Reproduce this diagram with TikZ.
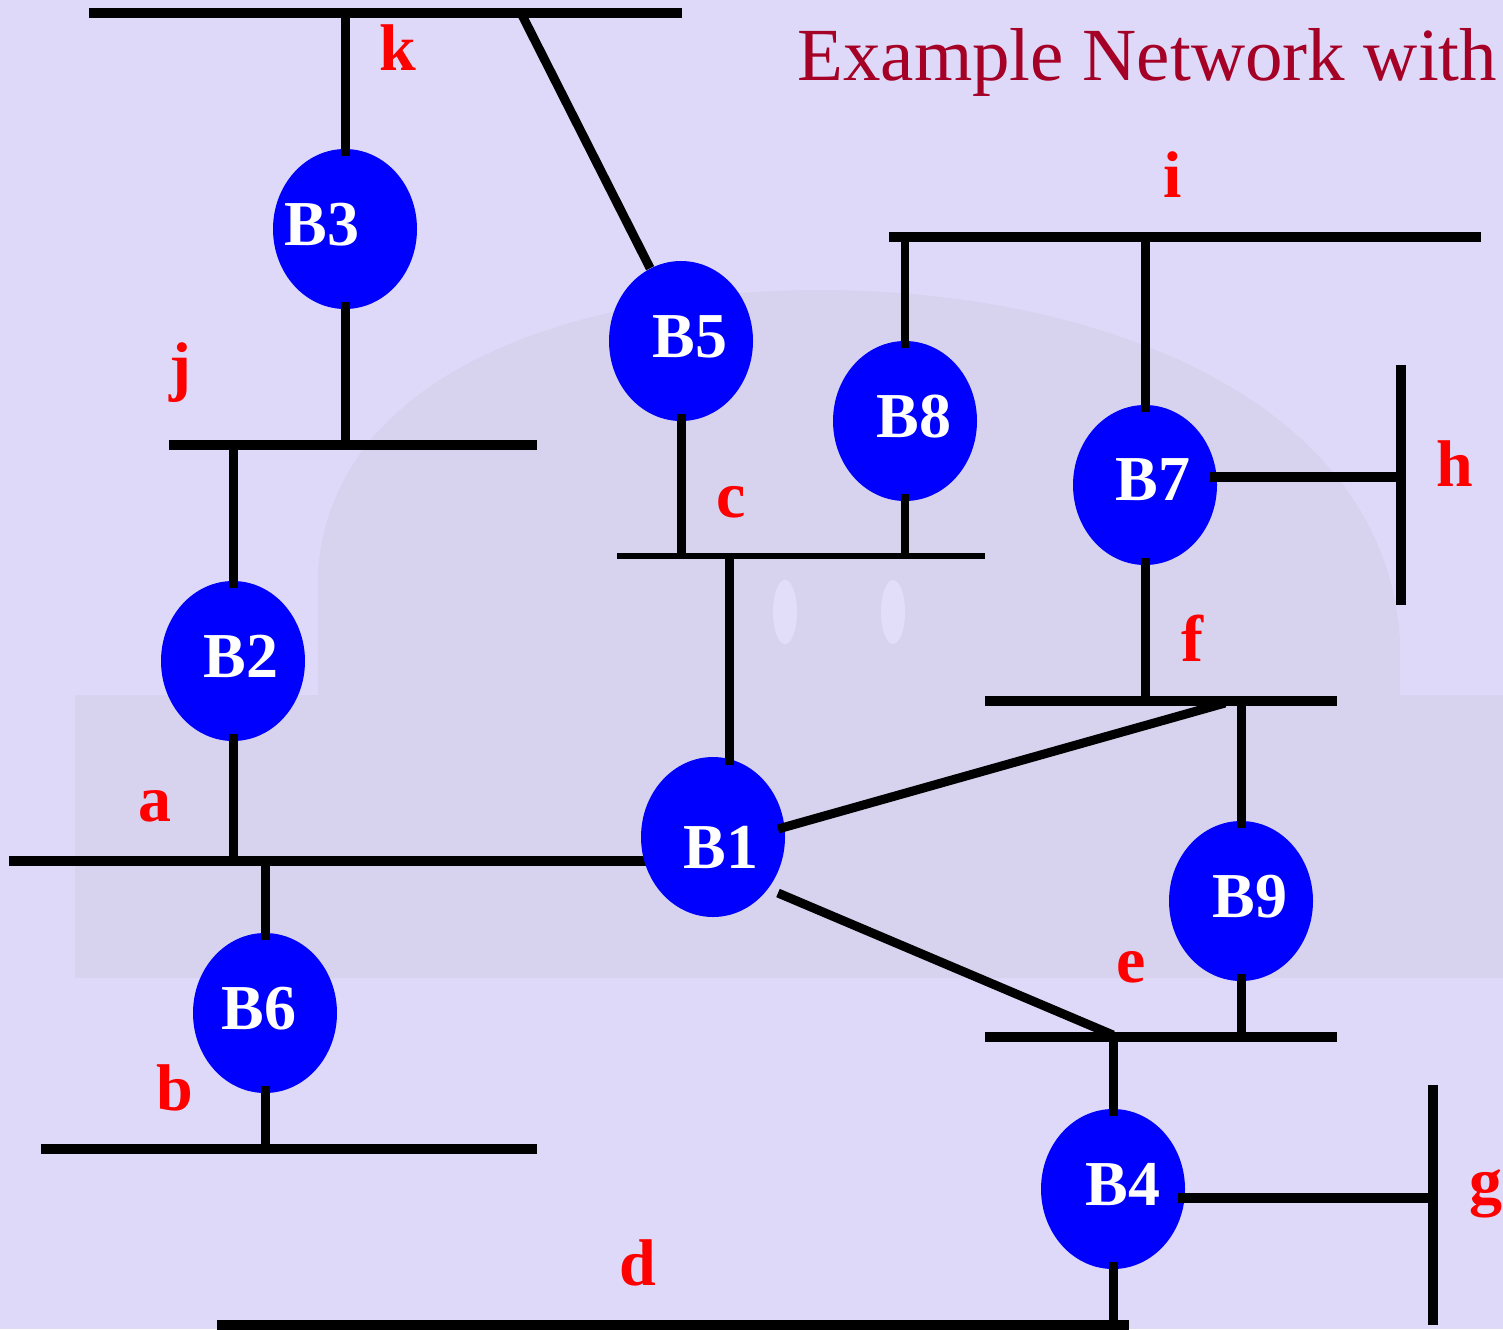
\documentclass[tikz,border=0pt]{standalone}
\usepackage{fontspec}
\setmainfont{Liberation Serif}
\usetikzlibrary{shapes.geometric}
\definecolor{bgc}{HTML}{DED9F9}
\definecolor{photo}{HTML}{D7D3EF}
\definecolor{photolt}{HTML}{E2DEFA}
\definecolor{titlered}{HTML}{A50026}
\definecolor{bridge}{HTML}{0000FF}
\begin{document}
\begin{tikzpicture}[x=0.5pt,y=-0.5pt,
  bus/.style={line width=5pt,line cap=butt},
  thinbus/.style={line width=3pt,line cap=butt},
  conn/.style={line width=4.5pt,line cap=butt},
  diag/.style={line width=4.5pt,line cap=butt},
  bridgenode/.style={ellipse,fill=bridge,draw=none,minimum width=72pt,minimum height=80pt,inner sep=0pt},
  btext/.style={anchor=base,text=white,font=\fontsize{32}{34}\selectfont\bfseries,inner sep=0pt},
  lab/.style={anchor=base,text=red,font=\fontsize{33}{36}\selectfont\bfseries,inner sep=0pt},
]
% background
\fill[bgc] (0,0) rectangle (1503,1329);
\useasboundingbox (0,0) rectangle (1503,1329);
% faint photo
\fill[photo] (318,700) -- (318,570) .. controls (335,360) and (600,290) .. (820,290) .. controls (1100,290) and (1385,400) .. (1400,640) -- (1400,700) -- cycle;
\fill[photo] (75,695) rectangle (1503,978);
\fill[photolt] (785,612) ellipse (12 and 32);
\fill[photolt] (893,612) ellipse (12 and 32);

% bus coordinates
\coordinate (kL) at (89,13);   \coordinate (kR) at (682,13);
\coordinate (jL) at (169,445); \coordinate (jR) at (537,445);
\coordinate (cL) at (617,556); \coordinate (cR) at (985,556);
\coordinate (iL) at (889,237); \coordinate (iR) at (1481,237);
\coordinate (hT) at (1401,365);\coordinate (hB) at (1401,605);
\coordinate (fL) at (985,701); \coordinate (fR) at (1337,701);
\coordinate (aL) at (9,861);   \coordinate (aR) at (649,861);
\coordinate (eL) at (985,1037);\coordinate (eR) at (1337,1037);
\coordinate (bL) at (41,1149); \coordinate (bR) at (537,1149);
\coordinate (gT) at (1433,1085);\coordinate (gB) at (1433,1325);
\coordinate (dL) at (217,1325);\coordinate (dR) at (1129,1325);

% buses
\draw[bus] (kL) -- (kR);
\draw[bus] (jL) -- (jR);
\draw[thinbus] (cL) -- (cR);
\draw[bus] (iL) -- (iR);
\draw[bus] (hT) -- (hB);
\draw[bus] (fL) -- (fR);
\draw[bus] (aL) -- (aR);
\draw[bus] (eL) -- (eR);
\draw[bus] (bL) -- (bR);
\draw[bus] (gT) -- (gB);
\draw[bus] (dL) -- (dR);

% bridges
\node[bridgenode] (B3) at (345,229) {};
\node[bridgenode] (B5) at (681,341) {};
\node[bridgenode] (B8) at (905,421) {};
\node[bridgenode] (B7) at (1145,485) {};
\node[bridgenode] (B2) at (233,661) {};
\node[bridgenode] (B1) at (713,837) {};
\node[bridgenode] (B9) at (1241,901) {};
\node[bridgenode] (B6) at (265,1013) {};
\node[bridgenode] (B4) at (1113,1189) {};

% free-end coordinates
\coordinate (kD) at (521,13);
\coordinate (h7) at (1401,477);
\coordinate (B7h) at (1210,477);
\coordinate (c1) at (729,556);
\coordinate (B1c) at (729,765);
\coordinate (B1f) at (778,829);
\coordinate (fD) at (1225,703);
\coordinate (B1e) at (778,893);
\coordinate (eD) at (1113,1035);
\coordinate (B4g) at (1178,1198);
\coordinate (g4) at (1433,1198);

% connectors
\draw[conn] ([yshift=-3.5pt]B3.north) -- (B3 |- kL);
\draw[conn] ([yshift=3.5pt]B3.south) -- (B3 |- jL);
\draw[conn] (kD) -- (B5.113);
\draw[conn] ([yshift=3.5pt]B5.south) -- (B5 |- cL);
\draw[conn] (B2 |- jL) -- ([yshift=-3.5pt]B2.north);
\draw[line width=4pt] ([yshift=-3.5pt]B8.north) -- (B8 |- iL);
\draw[line width=4pt] ([yshift=3.5pt]B8.south) -- (B8 |- cL);
\draw[conn] ([yshift=-3.5pt]B7.north) -- (B7 |- iL);
\draw[bus] (B7h) -- (h7);
\draw[conn] ([yshift=3.5pt]B7.south) -- (B7 |- fL);
\draw[conn] (c1) -- (B1c);
\draw[diag] (B1f) -- (fD);
\draw[conn] (B9 |- fL) -- ([yshift=-3.5pt]B9.north);
\draw[conn] ([yshift=3.5pt]B2.south) -- (B2 |- aL);
\draw[conn] (B6 |- aL) -- ([yshift=-3.5pt]B6.north);
\draw[diag] (B1e) -- (eD);
\draw[conn] ([yshift=3.5pt]B9.south) -- (B9 |- eL);
\draw[conn] (B4 |- eL) -- ([yshift=-3.5pt]B4.north);
\draw[bus] (B4g) -- (g4);
\draw[conn] ([yshift=3.5pt]B4.south) -- (B4 |- dL);
\draw[conn] ([yshift=3.5pt]B6.south) -- (B6 |- bL);

% bridge labels
\node[btext] (t3) at (322,245) {B3};
\node[btext] (t5) at (690,357) {B5};
\node[btext] (t8) at (914,437) {B8};
\node[btext] (t7) at (1153,500) {B7};
\node[btext] (t2) at (241,677) {B2};
\node[btext] (t1) at (721,868) {B1};
\node[btext] (t9) at (1250,917) {B9};
\node[btext] (t6) at (259,1029) {B6};
\node[btext] (t4) at (1123,1205) {B4};

% LAN labels
\node[lab] (lk) at (398,70) {k};
\node[lab] (lj) at (180,388) {j};
\node[lab] (li) at (1173,197) {i};
\node[lab] (lc) at (731,517) {c};
\node[lab] (lh) at (1455,486) {h};
\node[lab] (lf) at (1192,661) {f};
\node[lab] (la) at (155,821) {a};
\node[lab] (le) at (1131,982) {e};
\node[lab] (lb) at (175,1110) {b};
\node[lab] (ld) at (638,1285) {d};
\node[lab] (lg) at (1486,1203) {g};

% title
\node[anchor=base west,inner sep=0pt,text=titlered,font=\fontsize{37.5}{40}\selectfont] (title) at (797,80) {Example Network with};
\end{tikzpicture}
\end{document}
